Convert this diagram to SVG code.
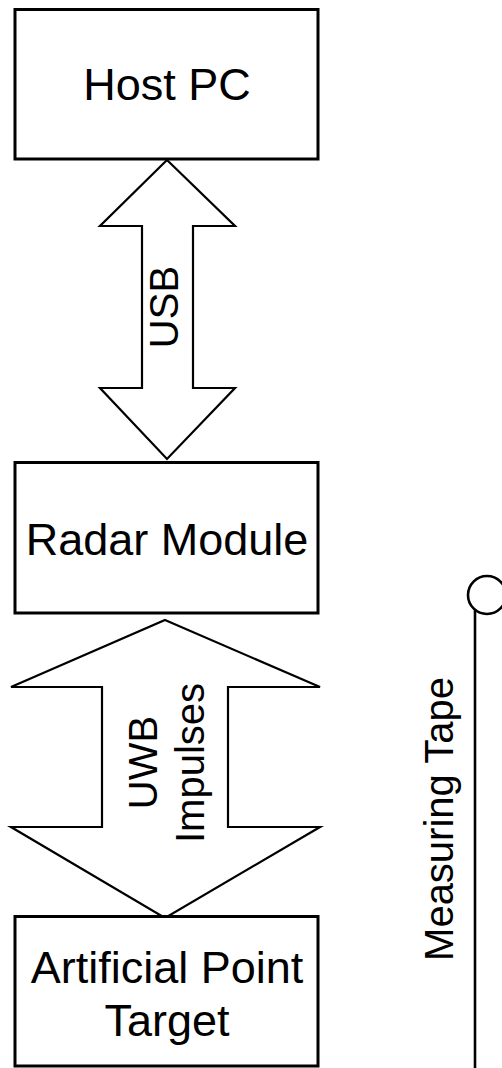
<svg xmlns="http://www.w3.org/2000/svg" width="502" height="1068" viewBox="0 0 502 1068">
  <style>
    .box { fill: #ffffff; stroke: #000000; stroke-width: 3; }
    .arrow { fill: #ffffff; stroke: #000000; stroke-width: 2.2; stroke-linejoin: miter; }
    .tape { fill: none; stroke: #000000; stroke-width: 2.6; }
    .label { font-family: "Liberation Sans", Arial, sans-serif; fill: #000000; text-anchor: middle; }
    .big { font-size: 45px; }
    .small { font-size: 40px; }
  </style>
  <rect x="0" y="0" width="502" height="1068" fill="#ffffff"/>

  <!-- double-headed link arrows -->
  <g id="connectors">
    <g id="usb-link">
      <polygon class="arrow" points="167,160 235,226 193,226 193,388 235,388 167,459 100,388 142,388 142,226 100,226"/>
      <text class="label small" transform="translate(178,307) rotate(-90)">USB</text>
    </g>
    <g id="uwb-link">
      <polygon class="arrow" points="165,620 320,687 228,687 228,827 320,827 165,918 11,827 102,827 102,687 11,687"/>
      <text class="label small" transform="translate(156.5,762.5) rotate(-90)">UWB</text>
      <text class="label small" transform="translate(204,763) rotate(-90)">Impulses</text>
    </g>
  </g>

  <g id="host-pc">
    <rect class="box" x="15" y="9.5" width="303" height="149.5"/>
    <text class="label big" x="167" y="100">Host PC</text>
  </g>

  <g id="radar-module">
    <rect class="box" x="15" y="462.5" width="303" height="150.5"/>
    <text class="label big" x="167" y="555">Radar Module</text>
  </g>

  <g id="point-target">
    <rect class="box" x="15" y="916.5" width="303" height="149.5"/>
    <text class="label big" x="167" y="983">Artificial Point</text>
    <text class="label big" x="167" y="1036">Target</text>
  </g>

  <g id="measuring-tape">
    <circle class="tape" cx="487" cy="595" r="19"/>
    <line class="tape" x1="475" y1="610" x2="475" y2="1068"/>
    <text class="label small" transform="translate(453,819) rotate(-90)">Measuring Tape</text>
  </g>
</svg>
